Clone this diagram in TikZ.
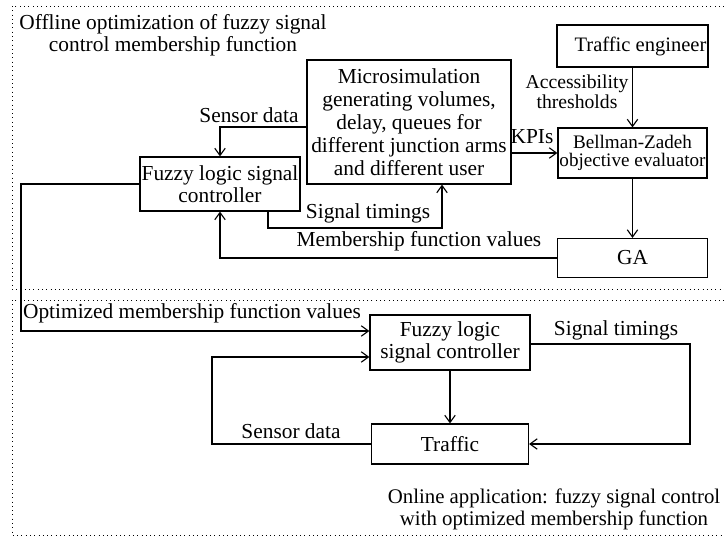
\documentclass[tikz,border=0pt]{standalone}
\usepackage{fontspec}
\setmainfont{Liberation Serif}
\usetikzlibrary{arrows.meta,positioning,calc}

\begin{document}
\begin{tikzpicture}[x=0.025cm, y=-0.025cm, line width=0.8pt,
    font=\fontsize{15.2}{15.6}\selectfont,
    block/.style={draw, align=center, inner sep=0pt},
    lbl/.style={align=center, inner sep=0pt},
    arr/.style={-{Straight Barb[length=1.8mm,width=2.6mm]}},
    frame/.style={line width=0.6pt, dash pattern=on 0.6pt off 2.45pt} ]
    \useasboundingbox (0,0) rectangle (724,537);
    % the two dotted frames
    \draw[frame] (724,6) -- (12,6) -- (12,289) -- (724,289);
    \draw[frame] (724,300) -- (12,300) -- (12,535) -- (724,535);
    % offline part
    \node[lbl] (offline) at (173,35) {Offline optimization of fuzzy signal\\control membership function};
    \node[block, minimum width=3.775cm, minimum height=1.05cm, font=\fontsize{14.6}{15}\selectfont] (engineer) at (632.5,46) {\hspace*{0.4cm}Traffic engineer};
    \node[block, minimum width=3.725cm, minimum height=1.25cm, font=\fontsize{13.6}{13}\selectfont] (bellman) at (632.5,153) {Bellman-Zadeh\\objective evaluator};
    \node[block, minimum width=3.75cm, minimum height=0.975cm] (ga) at (632.5,258) {GA};
    \node[block, minimum width=5.1cm, minimum height=3.1cm, font=\fontsize{15.2}{16.3}\selectfont] (micro) at (409,122)
        {Microsimulation\\generating volumes,\\delay, queues for\\different junction arms\\and different user};
    \node[block, minimum width=4cm, minimum height=1.35cm] (flc) at (220,184) {Fuzzy logic signal\\controller};
    % online part
    \node[block, minimum width=4cm, minimum height=1.375cm] (flcon) at (450,342.5) {Fuzzy logic\\signal controller};
    \node[block, minimum width=3.925cm, minimum height=1cm] (traffic) at (450,444) {Traffic};
    \node[lbl, font=\fontsize{14.8}{15.6}\selectfont] (online) at (554,509) {Online application: fuzzy signal control\\with optimized membership function};
    % turning points
    \coordinate (sdturn) at (220,127);
    \coordinate (stturn) at (268,228);
    \coordinate (stup) at (442,228);
    \coordinate (optturn) at (21,331);
    \coordinate (sdloop) at (212,357);
    \coordinate (stloop) at (690,344);
    % connectors
    \draw[arr] (micro.west |- sdturn) -- (sdturn) -- (flc.north);
    \draw[arr] (flc.south -| stturn) |- (stup) -- (micro.south -| stup);
    \draw[arr] (ga.west) -| (flc.south);
    \draw[arr] (micro.east |- bellman.west) -- (bellman.west);
    \draw[arr] (engineer.south) -- (bellman.north);
    \draw[arr] (bellman.south) -- (ga.north);
    \draw[arr] (flc.west) -| (optturn) -- (flcon.west |- optturn);
    \draw[arr] (traffic.west) -| (sdloop) -- (flcon.west |- sdloop);
    \draw[arr] (flcon.south) -- (traffic.north);
    \draw[arr] (flcon.east |- stloop) -- (stloop) |- (traffic.east);
    % labels
    \node[lbl] (sensorlbl) at (249,115) {Sensor data};
    \node[lbl] (timinglbl) at (368,213) {Signal timings};
    \node[lbl] (memberlbl) at (419,241) {Membership function values};
    \node[lbl] (kpilbl) at (532,137) {KPIs};
    \node[lbl, font=\fontsize{14}{14.2}\selectfont] (accesslbl) at (577,92) {Accessibility\\thresholds};
    \node[lbl] (optlbl) at (192,313) {Optimized membership function values};
    \node[lbl] (sensorlbltwo) at (291,431) {Sensor data};
    \node[lbl] (timinglbltwo) at (616,330) {Signal timings};
\end{tikzpicture}
\end{document}
